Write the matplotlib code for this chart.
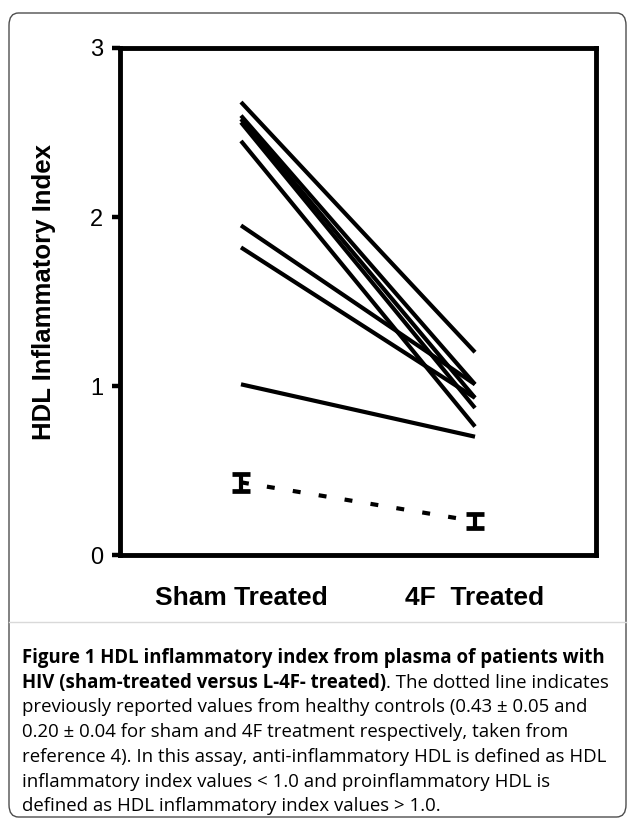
import matplotlib
matplotlib.use("Agg")
import matplotlib.pyplot as plt
from matplotlib.patches import FancyBboxPatch
from matplotlib.lines import Line2D

# ---- data ----
groups = ["Sham Treated", "4F  Treated"]
sham_values = [2.68, 2.60, 2.58, 2.56, 2.45, 1.95, 1.82, 1.01]
f4_values = [1.20, 1.01, 0.93, 0.87, 0.76, 1.01, 0.93, 0.70]
control_means = [0.43, 0.20]
control_sd = [0.05, 0.04]
y_ticks = [0, 1, 2, 3]
y_label = "HDL Inflammatory Index"

caption_bold_1 = "Figure 1 HDL inflammatory index from plasma of patients with"
caption_bold_2 = "HIV (sham-treated versus L-4F- treated)"
caption_rest_2 = ". The dotted line indicates"
caption_lines = [
    "previously reported values from healthy controls (0.43 \u00b1 0.05 and",
    "0.20 \u00b1 0.04 for sham and 4F treatment respectively, taken from",
    "reference 4). In this assay, anti-inflammatory HDL is defined as HDL",
    "inflammatory index values < 1.0 and proinflammatory HDL is",
    "defined as HDL inflammatory index values > 1.0.",
]

W, H = 629, 821
fig = plt.figure(figsize=(W / 100, H / 100), dpi=100)

def fx(px):
    return px / W

def fy(py):
    return 1 - py / H

# outer rounded border
border = FancyBboxPatch((fx(9), fy(817)), fx(617), fy(13) - fy(817),
                        boxstyle="round,pad=0,rounding_size=0.015",
                        transform=fig.transFigure, fill=False,
                        edgecolor="#4d4d4d", linewidth=1.0)
fig.patches.append(border)
# separator line
fig.add_artist(Line2D([fx(9), fx(626)], [fy(622), fy(622)], transform=fig.transFigure,
                      color="#d9d9d9", linewidth=1.0))

ax = fig.add_axes([fx(120), fy(555), fx(476), fy(48) - fy(555)])
x = [0, 1]
for s, f in zip(sham_values, f4_values):
    ax.plot(x, [s, f], color="black", linewidth=3.0, solid_capstyle="butt")

ax.plot(x, control_means, color="black", linewidth=3.0, linestyle=(0, (1.9, 4.4)),
        dash_capstyle="butt")
ax.errorbar(x, control_means, yerr=control_sd, fmt="none", ecolor="black",
            elinewidth=3.0, capsize=6.5, capthick=3.4)

ax.set_xlim(-0.517, 1.517)
ax.set_ylim(0, 3)
ax.set_yticks(y_ticks)
ax.set_yticklabels([str(t) for t in y_ticks], fontsize=17, family="Liberation Sans")
ax.tick_params(axis="y", direction="out", length=6, width=3.2, pad=6)
ax.set_xticks(x)
ax.set_xticklabels(groups, fontsize=19, fontweight="bold", family="Liberation Sans")
ax.tick_params(axis="x", length=0, pad=22)
for sp in ax.spines.values():
    sp.set_linewidth(3.5)

fig.text(fx(44), fy(292), y_label, rotation=90, ha="center", va="center",
         fontsize=18.5, fontweight="bold", family="Liberation Sans")

# caption
cap_font = dict(family="Open Sans", fontsize=13.4)
x0 = fx(22)
y0 = 663
step = 24.7
fig.text(x0, fy(y0), caption_bold_1, ha="left", va="baseline", fontweight="bold", **cap_font)
t2 = fig.text(x0, fy(y0 + step), caption_bold_2, ha="left", va="baseline", fontweight="bold", **cap_font)
fig.canvas.draw()
bb = t2.get_window_extent()
fig.text(bb.x1 / W, t2.get_position()[1], caption_rest_2, ha="left", va="baseline", **cap_font)
for i, line in enumerate(caption_lines):
    fig.text(x0, fy(y0 + step * (i + 2)), line, ha="left", va="baseline", **cap_font)

fig.savefig("out.png", dpi=100)
